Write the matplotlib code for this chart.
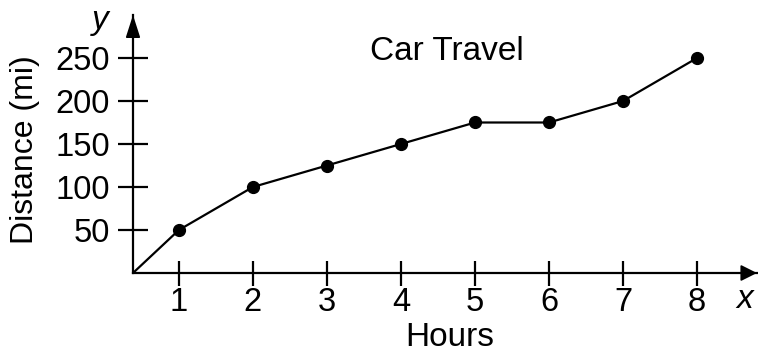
import numpy as np
import matplotlib
matplotlib.use("Agg")
import matplotlib.pyplot as plt

plt.rcParams['font.family'] = ['Liberation Sans', 'DejaVu Sans']

hours = [0, 1, 2, 3, 4, 5, 6, 7, 8]
distance = [0, 50, 100, 125, 150, 175, 175, 200, 250]
x_ticks = [1, 2, 3, 4, 5, 6, 7, 8]
y_ticks = [50, 100, 150, 200, 250]

# the gap between 0 and 1 on the x axis is drawn shorter than the others
squeeze = 0.62


def fwd(x):
    x = np.asarray(x, dtype=float)
    return np.where(x < 1, 1 - (1 - x) * squeeze, x)


def inv(x):
    x = np.asarray(x, dtype=float)
    return np.where(x < 1, 1 - (1 - x) / squeeze, x)


fig = plt.figure(figsize=(7.58, 3.58), dpi=100)
ax = fig.add_axes([133 / 758, (358 - 273) / 358, (757 - 133) / 758, (273 - 15) / 358])

ax.set_xscale('function', functions=(fwd, inv))
ax.plot(hours, distance, color='black', lw=1.6, zorder=3)
ax.plot(hours[1:], distance[1:], 'o', color='black', ms=8.5, zorder=4)

ax.set_xlim(0, 8.81)
ax.set_ylim(0, 300)

for s in ['top', 'right']:
    ax.spines[s].set_visible(False)
for s in ['left', 'bottom']:
    ax.spines[s].set_linewidth(1.6)

# arrow heads at the ends of the axes
ax.annotate('', xy=(1, 0), xytext=(0.96, 0), xycoords='axes fraction',
            arrowprops=dict(arrowstyle='-|>,head_length=1.0,head_width=0.5',
                            mutation_scale=10, color='black', lw=1.2,
                            shrinkA=0, shrinkB=0), annotation_clip=False)
ax.annotate('', xy=(0, 1), xytext=(0, 0.9), xycoords='axes fraction',
            arrowprops=dict(arrowstyle='-|>,head_length=1.4,head_width=0.45',
                            mutation_scale=10, color='black', lw=1.2,
                            shrinkA=0, shrinkB=0), annotation_clip=False)

ax.set_xticks(x_ticks)
ax.set_xticklabels([str(t) for t in x_ticks])
ax.set_yticks(y_ticks)
ax.set_yticklabels([str(t) for t in y_ticks])
ax.xaxis.set_minor_locator(matplotlib.ticker.NullLocator())
ax.tick_params(axis='both', direction='inout', width=1.6, labelsize=23.5)
ax.tick_params(axis='x', length=18, pad=1)
ax.tick_params(axis='y', length=21, pad=6)

fig.text(450 / 758, 1 - 338 / 358, 'Hours', fontsize=24, ha='center', va='center')
fig.text(25 / 758, 1 - 150 / 358, 'Distance (mi)', fontsize=23, rotation=90,
         ha='center', va='center')
fig.text(447 / 758, 1 - 52 / 358, 'Car Travel', fontsize=24, ha='center', va='center')
fig.text(100 / 758, 1 - 20 / 358, 'y', fontsize=24, style='italic', ha='center', va='center')
fig.text(745 / 758, 1 - 300 / 358, 'x', fontsize=24, style='italic', ha='center', va='center')

fig.savefig('out.png', dpi=100)
